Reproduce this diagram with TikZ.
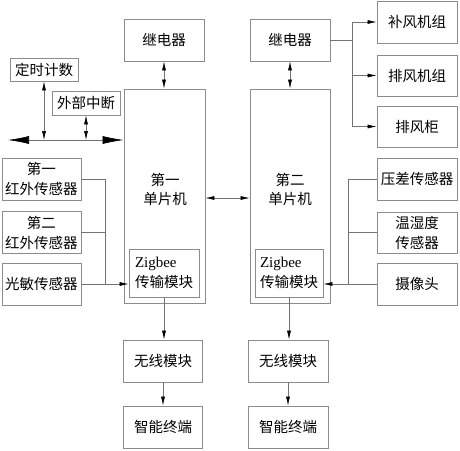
\documentclass[tikz,border=0pt]{standalone}
\usepackage{fontspec}
\setmainfont{Liberation Serif}
\newfontfamily\cjk{Noto Sans CJK SC}
\newfontfamily\lat{Liberation Serif}
\usetikzlibrary{arrows.meta}
\tikzset{
 bx/.style={draw=black!45,line width=0.8pt,inner sep=3pt,align=center,font=\cjk\fontsize{14.5}{20}\selectfont},
 txt/.style={inner sep=0pt,align=center,font=\cjk\fontsize{14.5}{19}\selectfont},
 ln/.style={draw=black!55,line width=0.6pt},
 ar/.style={ln,-{Latex[length=9pt,width=4pt,color=black]}},
 dar/.style={ln,{Latex[length=9pt,width=4pt,color=black]}-{Latex[length=9pt,width=4pt,color=black]}},
 bar/.style={ln,{Latex[length=21pt,width=8pt,color=black]}-{Latex[length=21pt,width=8pt,color=black]}},
}
\begin{document}
\begin{tikzpicture}[x=1pt,y=-1pt]
\useasboundingbox (0,0) rectangle (460,450);
% first column
\node[bx,minimum width=80pt,minimum height=42pt] (r1) at (164,40) {继电器};
\node[bx,minimum width=81pt,minimum height=214pt] (m1) at (164.5,196) {};
\node[txt] (m1t) at (165,189) {第一\\单片机};
\node[bx,minimum width=70pt,minimum height=48pt,align=left] (z1) at (164,273) {{\lat\fontsize{15}{20}\selectfont Zigbee}\\传输模块};
\node[bx,minimum width=79pt,minimum height=42pt] (w1) at (163,361) {无线模块};
\node[bx,minimum width=79pt,minimum height=42pt] (e1) at (163,427) {智能终端};
% second column
\node[bx,minimum width=80pt,minimum height=42pt] (r2) at (290,40) {继电器};
\node[bx,minimum width=80pt,minimum height=214pt] (m2) at (290,196) {};
\node[txt] (m2t) at (290,189) {第二\\单片机};
\node[bx,minimum width=68pt,minimum height=48pt,align=left] (z2) at (289,273) {{\lat\fontsize{15}{20}\selectfont Zigbee}\\传输模块};
\node[bx,minimum width=80pt,minimum height=42pt] (w2) at (288,361) {无线模块};
\node[bx,minimum width=80pt,minimum height=42pt] (e2) at (288,427) {智能终端};
% left inputs
\node[bx,minimum width=68pt,minimum height=23pt,inner sep=1pt] (t1) at (44,69.5) {定时计数};
\node[bx,minimum width=68pt,minimum height=24pt,inner sep=1pt] (t2) at (86,103) {外部中断};
\node[bx,minimum width=79pt,minimum height=42pt] (l1) at (41.5,179) {第一\\红外传感器};
\node[bx,minimum width=79pt,minimum height=42pt] (l2) at (41.5,232.5) {第二\\红外传感器};
\node[bx,minimum width=79pt,minimum height=42pt] (l3) at (41.5,284) {光敏传感器};
% right outputs
\node[bx,minimum width=80pt,minimum height=42pt] (o1) at (417,22) {补风机组};
\node[bx,minimum width=80pt,minimum height=41pt] (o2) at (417,75.5) {排风机组};
\node[bx,minimum width=80pt,minimum height=41pt] (o3) at (417,126.5) {排风柜};
\node[bx,minimum width=80pt,minimum height=42pt] (s1) at (417,179) {压差传感器};
\node[bx,minimum width=80pt,minimum height=41pt] (s2) at (417,232.5) {温湿度\\传感器};
\node[bx,minimum width=80pt,minimum height=42pt] (s3) at (417,284) {摄像头};
% helper coordinates
\coordinate (xr) at (352,0);
\coordinate (xs) at (348,0);
\coordinate (xl) at (105,0);
\coordinate (ym) at (0,198);
\coordinate (hb) at (0,140);
\coordinate (hl) at (8,140);
% connectors
\draw[dar] (r1.south) -- (r1.south |- m1.north);
\draw[dar] (r2.south) -- (r2.south |- m2.north);
\draw[dar] (m1.east |- ym) -- (m2.west |- ym);
\draw[ln] (r2.east) -- (r2.east -| xr);
\draw[ln] (o1.west -| xr) -- (o3.west -| xr);
\draw[ar] (o1.west -| xr) -- (o1.west);
\draw[ar] (o2.west -| xr) -- (o2.west);
\draw[ar] (o3.west -| xr) -- (o3.west);
\draw[ln] (s1.west) -- (s1.west -| xs) -- (s3.west -| xs);
\draw[ln] (s2.west) -- (s2.west -| xs);
\draw[ar] (s3.west) -- (z2.east |- s3.west);
\draw[ln] (l1.east) -- (l1.east -| xl) -- (l3.east -| xl);
\draw[ln] (l2.east) -- (l2.east -| xl);
\draw[ar] (l3.east) -- (z1.west |- l3.east);
\draw[bar] (hl) -- (m1.west |- hb);
\draw[dar] (t1.south) -- (t1.south |- hb);
\draw[dar] (t2.south) -- (t2.south |- hb);
\draw[ar] (z1.south) -- (z1.south |- w1.north);
\draw[ar] (w1.south) -- (e1.north);
\draw[ar] (z2.south) -- (z2.south |- w2.north);
\draw[ar] (w2.south) -- (e2.north);
\end{tikzpicture}
\end{document}
